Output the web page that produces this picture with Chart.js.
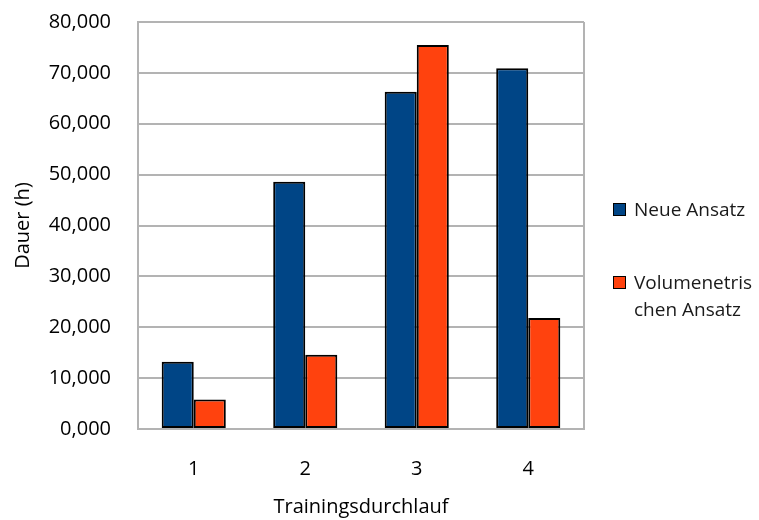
<!DOCTYPE html>
<html>
<head>
<meta charset="utf-8">
<script src="https://cdn.jsdelivr.net/npm/chart.js@4/dist/chart.umd.min.js"></script>
<style>
  html, body { margin: 0; padding: 0; background: #fff; }
  #wrap { position: relative; width: 759px; height: 520px; }
  #legend { position: absolute; left: 613px; top: 196px; font-family: "Open Sans", sans-serif; font-size: 19px; color: #1a1a1a; }
  .item { display: flex; align-items: flex-start; line-height: 27px; }
  .item + .item { margin-top: 46px; }
  .box { width: 11px; height: 11px; border: 1.5px solid #000; margin: 7px 8px 0 0; flex: none; }
  .txt { width: 124px; word-break: break-all; }
</style>
</head>
<body>
<div id="wrap">
  <canvas id="chart" width="759" height="520"></canvas>
  <div id="legend"></div>
</div>
<script>
const categories = ['1', '2', '3', '4'];
const seriesNames = ['Neue Ansatz', 'Volumenetrischen Ansatz'];
const neueAnsatz = [13.2, 48.6, 66.3, 70.9];
const volumenetrisch = [5.8, 14.6, 75.5, 21.8];
const colors = ['#004586', '#ff420e'];

const gridGray = '#b3b3b3';
const font = { family: '"Open Sans", sans-serif', size: 20 };

var ctx = document.getElementById('chart');
var myChart = new Chart(ctx, {
  type: 'bar',
  data: {
    labels: categories,
    datasets: [
      { label: seriesNames[0], data: neueAnsatz, backgroundColor: colors[0] },
      { label: seriesNames[1], data: volumenetrisch, backgroundColor: colors[1] }
    ]
  },
  options: {
    responsive: false,
    animation: false,
    layout: { padding: { top: 22, right: 175, left: 0, bottom: 0 } },
    datasets: {
      bar: { categoryPercentage: 0.575, barPercentage: 1, borderColor: '#000', borderWidth: 2, borderSkipped: false }
    },
    plugins: { legend: { display: false }, tooltip: { enabled: false } },
    scales: {
      x: {
        grid: {
          drawTicks: false,
          lineWidth: 2,
          // only the outer frame, no lines between categories
          color: (c) => (c.type !== 'tick' || c.index === 0) ? gridGray : 'rgba(0,0,0,0)'
        },
        border: { color: gridGray, width: 2 },
        ticks: { color: '#000', font: font, padding: 28 },
        title: { display: true, text: 'Trainingsdurchlauf', color: '#000', font: font, padding: { top: 0, bottom: 1 } },
        afterFit: (s) => { s.height = 91; }
      },
      y: {
        min: 0,
        max: 80,
        grid: { drawTicks: false, color: gridGray, lineWidth: 2 },
        border: { color: gridGray, width: 2 },
        ticks: {
          stepSize: 10,
          color: '#000',
          font: font,
          padding: 27,
          callback: (v) => v.toFixed(3).replace('.', ',')
        },
        title: { display: true, text: 'Dauer (h)', color: '#000', font: font, padding: { top: 11, bottom: 0 } },
        // tick padding would otherwise push the plot top down
        afterFit: (s) => { s.width = 138; s.paddingTop = 12; }
      }
    }
  }
});

// legend as html so the long name can wrap like the original
var legend = document.getElementById('legend');
seriesNames.forEach(function (name, i) {
  var item = document.createElement('div');
  item.className = 'item';
  item.innerHTML = '<span class="box" style="background:' + colors[i] + '"></span><span class="txt">' + name + '</span>';
  legend.appendChild(item);
});
</script>
</body>
</html>
